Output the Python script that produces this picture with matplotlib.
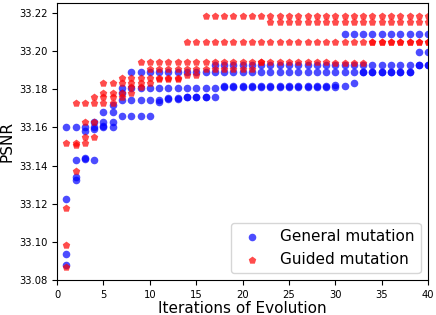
import matplotlib
matplotlib.use("Agg")
import matplotlib.pyplot as plt

# PSNR of the population at each iteration (iterations 1..40)
iterations = list(range(1, 41))

general_psnr = [
    [33.160, 33.1227, 33.094, 33.088],     # 1
    [33.160, 33.143, 33.134, 33.1325],     # 2
    [33.160, 33.158, 33.144, 33.1435],     # 3
    [33.163, 33.160, 33.159, 33.143],      # 4
    [33.168, 33.163, 33.161, 33.160],      # 5
    [33.172, 33.168, 33.163, 33.160],      # 6
    [33.1805, 33.178, 33.1744, 33.166],    # 7
    [33.189, 33.1805, 33.1744, 33.166],    # 8
    [33.189, 33.1805, 33.1744, 33.166],    # 9
    [33.189, 33.1805, 33.1744, 33.166],    # 10
    [33.189, 33.1805, 33.1745, 33.1735],   # 11
    [33.189, 33.1805, 33.1752, 33.175],    # 12
    [33.189, 33.1805, 33.1752, 33.175],    # 13
    [33.189, 33.1805, 33.1757, 33.1757],   # 14
    [33.189, 33.1805, 33.1757, 33.1757],   # 15
    [33.189, 33.1805, 33.1757, 33.1757],   # 16
    [33.1925, 33.189, 33.1805, 33.176],    # 17
    [33.1925, 33.189, 33.1818, 33.1812],   # 18
    [33.1925, 33.189, 33.1818, 33.1812],   # 19
    [33.1925, 33.189, 33.1818, 33.1812],   # 20
    [33.1925, 33.189, 33.1818, 33.1812],   # 21
    [33.1925, 33.189, 33.1818, 33.1812],   # 22
    [33.1925, 33.189, 33.1818, 33.1812],   # 23
    [33.1925, 33.189, 33.1818, 33.1812],   # 24
    [33.1925, 33.189, 33.1818, 33.1812],   # 25
    [33.1925, 33.189, 33.1818, 33.1812],   # 26
    [33.1925, 33.189, 33.1818, 33.1812],   # 27
    [33.1925, 33.189, 33.1818, 33.1812],   # 28
    [33.1925, 33.189, 33.1818, 33.1812],   # 29
    [33.1927, 33.189, 33.182, 33.181],     # 30
    [33.209, 33.1927, 33.189, 33.1815],    # 31
    [33.209, 33.1927, 33.189, 33.1834],    # 32
    [33.209, 33.1927, 33.189, 33.189],     # 33
    [33.209, 33.1927, 33.189, 33.189],     # 34
    [33.209, 33.1927, 33.189, 33.189],     # 35
    [33.209, 33.1927, 33.189, 33.189],     # 36
    [33.209, 33.1927, 33.189, 33.189],     # 37
    [33.209, 33.1927, 33.189, 33.189],     # 38
    [33.209, 33.1996, 33.1927, 33.1927],   # 39
    [33.209, 33.1996, 33.1927, 33.1927],   # 40
]

guided_psnr = [
    [33.152, 33.118, 33.0985, 33.087],     # 1
    [33.173, 33.152, 33.151, 33.137],      # 2
    [33.173, 33.163, 33.155, 33.152],      # 3
    [33.176, 33.173, 33.163, 33.155],      # 4
    [33.183, 33.178, 33.176, 33.173],      # 5
    [33.183, 33.178, 33.176, 33.173],      # 6
    [33.186, 33.183, 33.178, 33.176],      # 7
    [33.186, 33.183, 33.181, 33.178],      # 8
    [33.194, 33.186, 33.183, 33.181],      # 9
    [33.194, 33.1906, 33.186, 33.183],     # 10
    [33.194, 33.1906, 33.1857, 33.1855],   # 11
    [33.194, 33.1906, 33.1857, 33.1855],   # 12
    [33.194, 33.1906, 33.1857, 33.1855],   # 13
    [33.2047, 33.194, 33.1906, 33.1874],   # 14
    [33.2047, 33.194, 33.1906, 33.1874],   # 15
    [33.2183, 33.2047, 33.194, 33.1906],   # 16
    [33.2183, 33.2047, 33.194, 33.1906],   # 17
    [33.2183, 33.2047, 33.194, 33.1906],   # 18
    [33.2183, 33.2047, 33.194, 33.1906],   # 19
    [33.2183, 33.2047, 33.194, 33.1906],   # 20
    [33.2183, 33.2047, 33.194, 33.1906],   # 21
    [33.2183, 33.2047, 33.194, 33.194],    # 22
    [33.2183, 33.2153, 33.2047, 33.194],   # 23
    [33.2183, 33.2153, 33.2047, 33.194],   # 24
    [33.2183, 33.2153, 33.2047, 33.194],   # 25
    [33.2183, 33.2153, 33.2047, 33.194],   # 26
    [33.2183, 33.2153, 33.2047, 33.194],   # 27
    [33.2183, 33.2153, 33.2047, 33.194],   # 28
    [33.2183, 33.2153, 33.2047, 33.194],   # 29
    [33.2183, 33.2153, 33.2047, 33.1935],  # 30
    [33.2183, 33.2153, 33.2047, 33.1935],  # 31
    [33.2183, 33.2153, 33.2047, 33.1935],  # 32
    [33.2183, 33.2153, 33.2047, 33.1935],  # 33
    [33.2183, 33.2153, 33.2047, 33.2047],  # 34
    [33.2183, 33.2153, 33.2047, 33.2047],  # 35
    [33.2183, 33.2153, 33.2047, 33.2047],  # 36
    [33.2183, 33.2153, 33.2047, 33.2047],  # 37
    [33.2183, 33.2153, 33.2047, 33.2047],  # 38
    [33.2183, 33.2153, 33.2047, 33.2047],  # 39
    [33.2183, 33.2153, 33.2047, 33.2047],  # 40
]

xticks = [0, 5, 10, 15, 20, 25, 30, 35, 40]
yticks = [33.08, 33.10, 33.12, 33.14, 33.16, 33.18, 33.20, 33.22]

#%%
def flatten(iters, values):
    xs, ys = [], []
    for it, vals in zip(iters, values):
        for v in vals:
            xs.append(it)
            ys.append(v)
    return xs, ys

gx, gy = flatten(iterations, general_psnr)
rx, ry = flatten(iterations, guided_psnr)

fig = plt.figure(figsize=(4.36, 3.15), dpi=100)
ax = fig.add_axes([0.131, 0.110, 0.851, 0.881])

ax.scatter(gx, gy, s=30, marker='o', color='blue', alpha=0.7,
           linewidths=0, label='General mutation')
ax.scatter(rx, ry, s=32, marker='p', color='red', alpha=0.7,
           linewidths=0, label='Guided mutation')

ax.set_xlim(0, 40)
ax.set_ylim(33.08, 33.2252)
ax.set_xticks(xticks)
ax.set_yticks(yticks)
ax.set_yticklabels(["{:.2f}".format(v) for v in yticks])
ax.tick_params(labelsize=7.2)
ax.set_xlabel('Iterations of Evolution', fontsize=11, labelpad=1)
ax.set_ylabel('PSNR', fontsize=11, labelpad=3)
ax.legend(loc='lower right', fontsize=11)

fig.savefig('out.png', dpi=100)
